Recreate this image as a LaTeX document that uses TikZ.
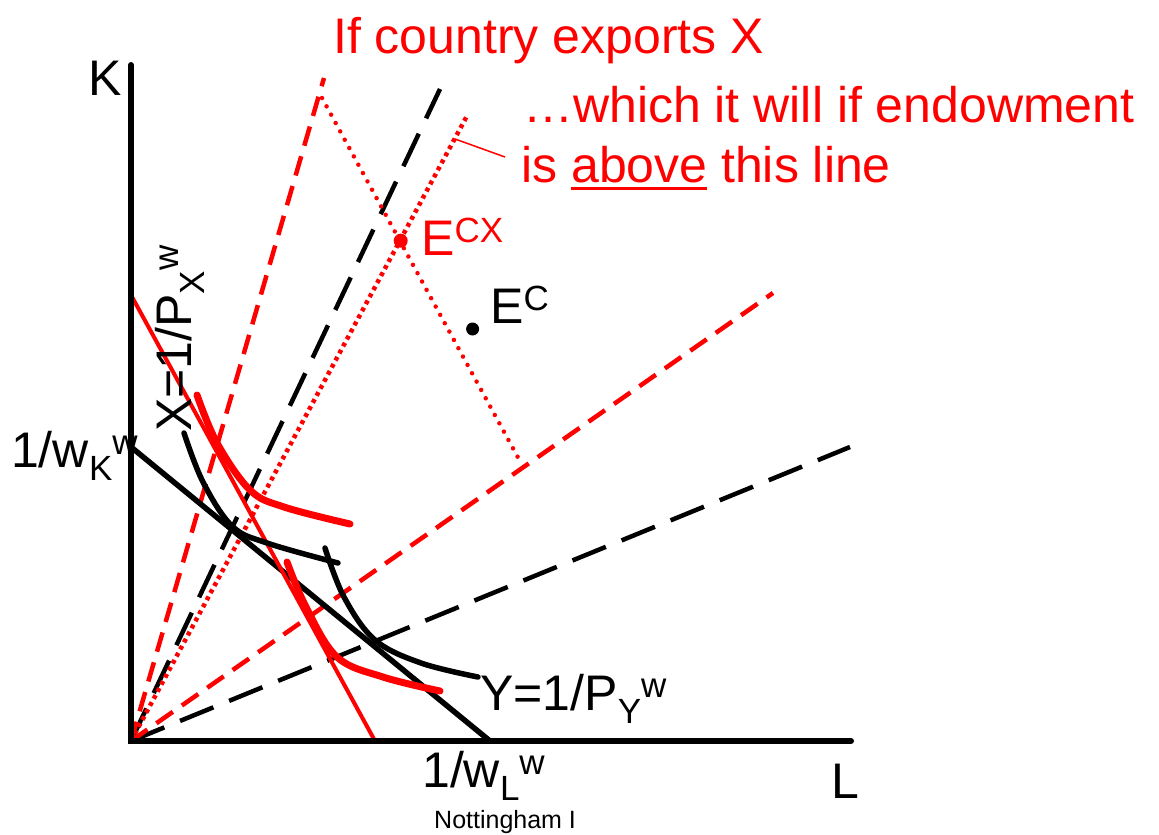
\documentclass[tikz,border=0pt]{standalone}
\usepackage{fontspec}
\setmainfont{Liberation Sans}
\newcommand{\mysup}[1]{\raisebox{13pt}{\fontsize{35}{35}\selectfont #1}}
\newcommand{\mysub}[1]{\raisebox{-13pt}{\fontsize{35}{35}\selectfont #1}}
\newcommand{\myul}[1]{\setbox0\hbox{#1}\rlap{\rule[-8pt]{\wd0}{3pt}}\box0\relax}
\begin{document}
\begin{tikzpicture}[x=1pt,y=-1pt,
  axis/.style={line width=6pt, line cap=round},
  curve/.style={line width=5.5pt, line cap=round},
  rcurve/.style={red, line width=7pt, line cap=round},
  bdash/.style={line width=4.5pt, dash pattern=on 36pt off 17pt},
  rdash/.style={red, line width=4.5pt, dash pattern=on 20pt off 11pt},
  rdot/.style={red, line width=4.5pt, dash pattern=on 4pt off 4pt},
  rrdot/.style={red, line width=4.5pt, line cap=round, dash pattern=on 0pt off 9.5pt},
  lbl/.style={anchor=base west, inner sep=0pt, font=\fontsize{50}{60}\selectfont},
]
\useasboundingbox (0,0) rectangle (1159,835);
% coordinates
\coordinate (O) at (131,741);
\coordinate (Ktop) at (131,65);
\coordinate (Lend) at (851,741);
\coordinate (bsteep) at (440,89);
\coordinate (bshallow) at (850,447);
\coordinate (rsteep) at (324,78);
\coordinate (rdotted) at (468,114);
\coordinate (rshallow) at (773,293);
\coordinate (p1) at (322,98);
\coordinate (p2) at (521,463);
\coordinate (bud1) at (131,447);
\coordinate (bud2) at (490,741);
\coordinate (rl1) at (131,295);
\coordinate (rl2) at (375,741);
\coordinate (ld1) at (455,139);
\coordinate (ld2) at (505,157);
% rays
\draw[bdash] (O) -- (bsteep);
\draw[bdash] (O) -- (bshallow);
\draw[rdash] (O) -- (rsteep);
\draw[rdash] (O) -- (rshallow);
\draw[rdot] (O) -- (rdotted);
\draw[rrdot] (p1) -- (p2);
\draw[red, line width=1.5pt] (ld1) -- (ld2);
% budget lines
\draw[curve] (bud1) -- (bud2);
\draw[red, line width=4pt, line cap=round] (rl1) -- (rl2);
% isoquants
\draw[curve] plot[smooth, tension=0.6] coordinates {(184,433) (203,482) (232,526) (267,543) (338,563)};
\draw[rcurve] plot[smooth, tension=0.6] coordinates {(197,395) (217,443) (250,490) (284,507) (350,524)};
\draw[curve] plot[smooth, tension=0.6] coordinates {(325,548) (344,597) (375,640) (421,663) (478,677)};
\draw[rcurve] plot[smooth, tension=0.6] coordinates {(287,562) (306,607) (337,657) (383,677) (440,691)};
% axes
\draw[axis] (Ktop) -- (O) -- (Lend);
% points
\fill[red] (400.7,240.7) circle (7);
\fill (472.6,329) circle (6.5);
% texts
\node[lbl, red] (t1) at (333,53) {If country exports X};
\node[lbl, red] (t2) at (523,122) {…which it will if endowment};
\node[lbl, red] (t3) at (521,182) {is \myul{above} this line};
\node[lbl, red] (ecx) at (421,255) {E\mysup{CX}};
\node[lbl] (ec) at (490,323) {E\mysup{C}};
\node[lbl] (K) at (88,95) {K};
\node[lbl] (L) at (831,798) {L};
\node[lbl] (wk) at (11,467) {1/w\mysub{K}\mysup{w}};
\node[lbl] (wl) at (422,787) {1/w\mysub{L}\mysup{w}};
\node[lbl] (Y) at (480,710) {Y=1/P\mysub{Y}\mysup{w}};
\node[lbl, rotate=90] (X) at (191,432) {X=1/P\mysub{X}\mysup{w}};
\node[anchor=base west, inner sep=0pt, font=\fontsize{25}{30}\selectfont] (nott) at (434,828) {Nottingham I};
\end{tikzpicture}
\end{document}
